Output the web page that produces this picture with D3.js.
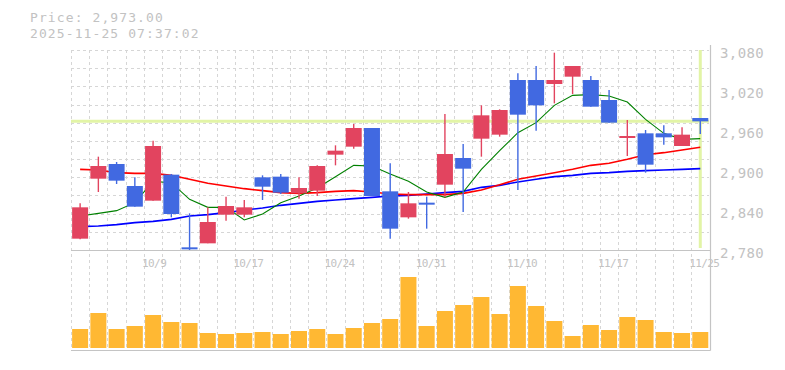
<!DOCTYPE html>
<html>
<head>
<meta charset="utf-8">
<script src="https://d3js.org/d3.v7.min.js"></script>
<style>
  body { margin: 0; background: #fff; }
  svg { display: block; }
  text { font-family: "DejaVu Sans Mono", "Liberation Mono", monospace; fill: #c2c2c2; }
</style>
</head>
<body>
<svg id="chart" width="785" height="370"></svg>
<script>
// trading days (2025)
var dates = ["10/3","10/6","10/7","10/8","10/9","10/10","10/14","10/15","10/16","10/17",
             "10/20","10/21","10/22","10/23","10/24","10/27","10/28","10/29","10/30","10/31",
             "11/4","11/5","11/6","11/7","11/10","11/11","11/12","11/13","11/14","11/17",
             "11/18","11/19","11/20","11/21","11/25"];

var opens  = [2797,2887,2909,2876,2854,2893,2784,2790,2833,2833,
              2889,2890,2865,2869,2923,2935,2963,2868,2829,2851,
              2878,2918,2947,2953,3035,3035,3029,3040,3035,3005,
              2950,2955,2955,2936,2978];
var highs  = [2850,2920,2912,2889,2944,2894,2835,2844,2860,2855,
              2892,2894,2889,2907,2937,2969,2963,2910,2867,2860,
              2984,2939,2997,2991,3045,3056,3076,3056,3041,3020,
              2975,2960,2967,2964,2978];
var lows   = [2796,2867,2879,2845,2854,2829,2780,2790,2824,2829,
              2855,2864,2857,2861,2907,2932,2861,2797,2827,2812,
              2859,2837,2920,2950,2870,2959,3000,3014,2995,2971,
              2921,2896,2938,2936,2954];
var closes = [2844,2906,2884,2845,2936,2834,2781,2822,2846,2844,
              2875,2866,2873,2906,2929,2963,2861,2812,2850,2848,
              2924,2902,2982,2990,2983,2997,3035,3056,2995,2971,
              2951,2908,2949,2953,2973];

// moving averages
var ma5  = [2831,2835,2839,2851,2883,2881,2856,2844,2844,2825,
            2834,2851,2861,2873,2890,2907,2906,2894,2883,2867,
            2859,2867,2901,2929,2956,2971,2997,3012,3013,3011,
            3002,2976,2955,2946,2947];
var ma25 = [2901,2900,2896,2895,2895,2892,2886,2880,2876,2872,
            2869,2866,2865,2866,2868,2869,2867,2864,2863,2863,
            2863,2865,2870,2878,2886,2891,2896,2901,2907,2910,
            2916,2923,2926,2930,2934];
var ma75 = [2815,2816,2818,2821,2823,2826,2831,2833,2836,2840,
            2843,2847,2850,2853,2855,2857,2859,2861,2862,2864,
            2866,2868,2874,2877,2882,2886,2890,2892,2895,2896,
            2898,2899,2900,2901,2902];

// volume, thousand shares
var volumes = [190,350,190,220,330,260,250,150,140,150,
               160,140,170,190,140,200,250,290,710,220,
               370,430,510,340,620,420,270,120,230,180,
               310,280,160,150,160];

var priceTicks = [3080, 3020, 2960, 2900, 2840, 2780];
var dateTicks  = ["10/9","10/17","10/24","10/31","11/10","11/17","11/25"];
var lastPrice  = 2973;
var stamp      = "2025-11-25 07:37:02";

var upColor = "#e2445f", downColor = "#4169e1";

var svg = d3.select("#chart");

var x = d3.scaleBand().domain(dates).range([71, 709.4]);
var bw = x.bandwidth();
function cx(d) { return x(d) + bw / 2; }

var y = d3.scaleLinear().domain([2780, 3080]).range([250, 50]);
var yVol = d3.scaleLinear().domain([0, 980]).range([348, 250]);

var candles = dates.map(function(d, i) {
  return {date: d, o: opens[i], h: highs[i], l: lows[i], c: closes[i], v: volumes[i]};
});

/* title */
svg.append("text").attr("x", 30).attr("y", 22)
   .style("font-size", "13px").style("letter-spacing", "1.1px")
   .text("Price: " + d3.format(",.2f")(lastPrice));
svg.append("text").attr("x", 30).attr("y", 37.5)
   .style("font-size", "13px").style("letter-spacing", "1.1px")
   .text(stamp);

/* grid */
var grid = svg.append("g")
   .attr("stroke", "#d6d6d6")
   .attr("stroke-dasharray", "3,3")
   .attr("stroke-width", 1);

grid.selectAll(".vgrid")
   .data(dates)
   .enter().append("line")
   .attr("x1", function(d) { return Math.round(x(d)) + 0.5; })
   .attr("x2", function(d) { return Math.round(x(d)) + 0.5; })
   .attr("y1", 50).attr("y2", 350);

grid.selectAll(".hgrid")
   .data(d3.range(0, 11).map(function(k) { return 3080 - k * 300 / 11; }))
   .enter().append("line")
   .attr("x1", 71).attr("x2", 709)
   .attr("y1", function(v) { return Math.round(y(v)) + 0.5; })
   .attr("y2", function(v) { return Math.round(y(v)) + 0.5; });

/* current price / date marker */
svg.append("line")
   .attr("x1", 71).attr("x2", 709)
   .attr("y1", y(lastPrice)).attr("y2", y(lastPrice))
   .attr("stroke", "#e2f4a6").attr("stroke-width", 3);
svg.append("line")
   .attr("x1", cx(dates[dates.length - 1])).attr("x2", cx(dates[dates.length - 1]))
   .attr("y1", 50).attr("y2", 248)
   .attr("stroke", "#e2f4a6").attr("stroke-width", 3);

/* moving averages */
function maLine(values, color, width) {
  var line = d3.line()
    .x(function(v, i) { return cx(dates[i]); })
    .y(function(v) { return y(v); });
  svg.append("path")
     .datum(values)
     .attr("fill", "none")
     .attr("stroke", color)
     .attr("stroke-width", width)
     .attr("d", line);
}
maLine(ma75, "#0000ff", 1.6);
maLine(ma25, "#ff0000", 1.6);
maLine(ma5, "#008000", 1.1);

/* candles */
var cg = svg.append("g");
var cand = cg.selectAll(".candle")
   .data(candles)
   .enter().append("g")
   .attr("class", "candle");

cand.append("line")
   .attr("x1", function(d) { return cx(d.date); })
   .attr("x2", function(d) { return cx(d.date); })
   .attr("y1", function(d) { return y(d.h); })
   .attr("y2", function(d) { return y(d.l); })
   .attr("stroke", function(d) { return d.c >= d.o ? upColor : downColor; })
   .attr("stroke-width", 1.4);

cand.append("rect")
   .attr("x", function(d) { return cx(d.date) - 8; })
   .attr("width", 16)
   .attr("y", function(d) { return y(Math.max(d.o, d.c)); })
   .attr("height", function(d) { return Math.max(2, Math.abs(y(d.o) - y(d.c))); })
   .attr("fill", function(d) { return d.c >= d.o ? upColor : downColor; });

/* volume */
svg.selectAll(".vol")
   .data(candles)
   .enter().append("rect")
   .attr("class", "vol")
   .attr("x", function(d) { return cx(d.date) - 8; })
   .attr("width", 16)
   .attr("y", function(d) { return yVol(d.v); })
   .attr("height", function(d) { return yVol(0) - yVol(d.v); })
   .attr("fill", "#ffb833");

/* date labels */
svg.selectAll(".dlabel")
   .data(dateTicks)
   .enter().append("text")
   .attr("x", function(d) { return cx(d) - 11; })
   .attr("y", 266.5)
   .style("font-size", "11px").style("letter-spacing", "-0.6px")
   .text(function(d) { return d; });

/* price labels */
svg.selectAll(".plabel")
   .data(priceTicks)
   .enter().append("text")
   .attr("x", 720)
   .attr("y", function(v) { return y(v) + 7.5; })
   .style("font-size", "14px").style("letter-spacing", "0.4px")
   .text(function(v) { return d3.format(",")(v); });

/* frame */
var frame = svg.append("g").attr("stroke", "#c4c4c4").attr("stroke-width", 1.2);
frame.append("line").attr("x1", 71).attr("x2", 710.5).attr("y1", 250.5).attr("y2", 250.5);
frame.append("line").attr("x1", 71).attr("x2", 710.5).attr("y1", 350.5).attr("y2", 350.5);
frame.append("line").attr("x1", 710.5).attr("x2", 710.5).attr("y1", 45).attr("y2", 350.5);
</script>
</body>
</html>
